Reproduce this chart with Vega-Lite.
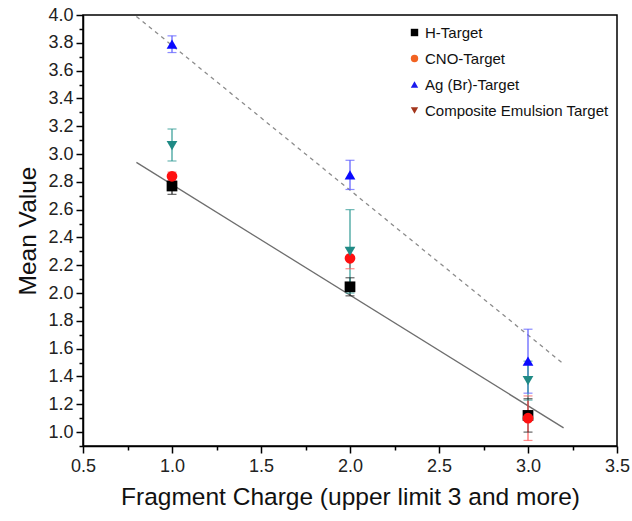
{
  "$schema": "https://vega.github.io/schema/vega-lite/v6.json",
  "width": 534,
  "height": 431,
  "autosize": "none",
  "padding": {"left": 83, "top": 15, "right": 15, "bottom": 75},
  "background": "white",
  "config": {
    "view": {"stroke": "black", "strokeWidth": 1.5},
    "font": "Liberation Sans"
  },
  "datasets": {
    "pts": [
      {"x": 1, "y": 2.77, "lo": 2.71, "hi": 2.83, "target": "H-Target"},
      {"x": 2, "y": 2.045, "lo": 1.98, "hi": 2.11, "target": "H-Target"},
      {"x": 3, "y": 1.12, "lo": 1.0, "hi": 1.24, "target": "H-Target"},
      {"x": 1, "y": 2.84, "lo": 2.81, "hi": 2.87, "target": "CNO-Target"},
      {"x": 2, "y": 2.25, "lo": 2.175, "hi": 2.325, "target": "CNO-Target"},
      {"x": 3, "y": 1.1, "lo": 0.94, "hi": 1.26, "target": "CNO-Target"},
      {"x": 1, "y": 3.79, "lo": 3.73, "hi": 3.85, "target": "Ag (Br)-Target"},
      {"x": 2, "y": 2.85, "lo": 2.745, "hi": 2.955, "target": "Ag (Br)-Target"},
      {"x": 3, "y": 1.51, "lo": 1.28, "hi": 1.74, "target": "Ag (Br)-Target"},
      {"x": 1, "y": 3.06, "lo": 2.95, "hi": 3.18, "target": "Composite Emulsion Target"},
      {"x": 2, "y": 2.3, "lo": 2.0, "hi": 2.6, "target": "Composite Emulsion Target"},
      {"x": 3, "y": 1.37, "lo": 1.23, "hi": 1.51, "target": "Composite Emulsion Target"}
    ],
    "solid": [{"x": 0.8, "y": 2.94}, {"x": 3.2, "y": 1.03}],
    "dashed": [{"x": 0.8, "y": 3.99}, {"x": 3.2, "y": 1.49}]
  },
  "encoding": {
    "x": {
      "field": "x", "type": "quantitative",
      "scale": {"domain": [0.5, 3.5], "nice": false, "zero": false},
      "axis": {
        "title": "Fragment Charge (upper limit 3 and more)",
        "values": [0.5, 0.75, 1, 1.25, 1.5, 1.75, 2, 2.25, 2.5, 2.75, 3, 3.25, 3.5],
        "labelExpr": "round(datum.value*4)%2==0 ? format(datum.value,'.1f') : ''",
        "tickSize": {"condition": {"test": "round(datum.value*4)%2==0", "value": 7}, "value": 4},
        "grid": false, "labelFlush": false, "labelOverlap": false, "labelBound": false,
        "domainColor": "black", "domainWidth": 1.5, "tickColor": "black", "tickWidth": 1.5,
        "labelFontSize": 18, "labelColor": "#222222", "labelPadding": 4,
        "titleFontSize": 24.5, "titleFontWeight": "normal", "titleColor": "#111111", "titlePadding": 10
      }
    },
    "y": {
      "field": "y", "type": "quantitative",
      "scale": {"domain": [0.9, 4.0], "nice": false, "zero": false},
      "axis": {
        "title": "Mean Value",
        "values": [0.9, 1, 1.1, 1.2, 1.3, 1.4, 1.5, 1.6, 1.7, 1.8, 1.9, 2, 2.1, 2.2, 2.3, 2.4, 2.5, 2.6, 2.7, 2.8, 2.9, 3, 3.1, 3.2, 3.3, 3.4, 3.5, 3.6, 3.7, 3.8, 3.9, 4],
        "labelExpr": "round(datum.value*10)%2==0 ? format(datum.value,'.1f') : ''",
        "tickSize": {"condition": {"test": "round(datum.value*10)%2==0", "value": 7}, "value": 4},
        "grid": false, "labelFlush": false, "labelOverlap": false, "labelBound": false,
        "domainColor": "black", "domainWidth": 1.5, "tickColor": "black", "tickWidth": 1.5,
        "labelFontSize": 18, "labelColor": "#222222", "labelPadding": 3,
        "titleFontSize": 24.5, "titleFontWeight": "normal", "titleColor": "#111111", "titlePadding": 7
      }
    }
  },
  "layer": [
    {
      "data": {"name": "solid"},
      "mark": {"type": "line", "color": "#6e6e6e", "strokeWidth": 1.3}
    },
    {
      "data": {"name": "dashed"},
      "mark": {"type": "line", "color": "#8c8c8c", "strokeWidth": 1.3, "strokeDash": [4, 4]}
    },
    {
      "data": {"name": "pts"},
      "mark": {"type": "rule", "strokeWidth": 1.2},
      "encoding": {
        "y": {"field": "lo", "type": "quantitative"},
        "y2": {"field": "hi"},
        "color": {
          "field": "target", "type": "nominal", "legend": null,
          "scale": {"domain": ["H-Target", "CNO-Target", "Ag (Br)-Target", "Composite Emulsion Target"], "range": ["#222222", "#ff5a5a", "#5a5aff", "#2f9a94"]}
        }
      }
    },
    {
      "data": {"name": "pts"},
      "mark": {"type": "tick", "orient": "horizontal", "size": 9, "thickness": 1.2},
      "encoding": {
        "y": {"field": "lo", "type": "quantitative"},
        "color": {
          "field": "target", "type": "nominal", "legend": null,
          "scale": {"domain": ["H-Target", "CNO-Target", "Ag (Br)-Target", "Composite Emulsion Target"], "range": ["#222222", "#ff5a5a", "#5a5aff", "#2f9a94"]}
        }
      }
    },
    {
      "data": {"name": "pts"},
      "mark": {"type": "tick", "orient": "horizontal", "size": 9, "thickness": 1.2},
      "encoding": {
        "y": {"field": "hi", "type": "quantitative"},
        "color": {
          "field": "target", "type": "nominal", "legend": null,
          "scale": {"domain": ["H-Target", "CNO-Target", "Ag (Br)-Target", "Composite Emulsion Target"], "range": ["#222222", "#ff5a5a", "#5a5aff", "#2f9a94"]}
        }
      }
    },
    {
      "data": {"name": "pts"},
      "mark": {"type": "point", "filled": true, "opacity": 1, "size": 115},
      "encoding": {
        "color": {
          "field": "target", "type": "nominal", "legend": null,
          "scale": {"domain": ["H-Target", "CNO-Target", "Ag (Br)-Target", "Composite Emulsion Target"], "range": ["#000000", "#ff1010", "#0a0aff", "#1f8a85"]}
        },
        "shape": {
          "field": "target", "type": "nominal", "legend": null,
          "scale": {"domain": ["H-Target", "CNO-Target", "Ag (Br)-Target", "Composite Emulsion Target"], "range": ["square", "circle", "triangle-up", "triangle-down"]}
        }
      }
    },
    {
      "data": {"name": "pts"},
      "transform": [{"filter": "false"}],
      "mark": {"type": "point", "filled": true, "opacity": 1},
      "encoding": {
        "color": {
          "field": "target", "type": "nominal",
          "scale": {"domain": ["H-Target", "CNO-Target", "Ag (Br)-Target", "Composite Emulsion Target"], "range": ["#000000", "#f26322", "#1a1aee", "#a3361c"]},
          "legend": {
            "title": null, "orient": "none", "legendX": 324, "legendY": 10,
            "symbolSize": 55, "symbolStrokeWidth": 0, "labelFontSize": 15, "labelColor": "#111111",
            "rowPadding": 10, "labelOffset": 3, "padding": 0, "labelLimit": 300
          }
        },
        "shape": {
          "field": "target", "type": "nominal",
          "scale": {"domain": ["H-Target", "CNO-Target", "Ag (Br)-Target", "Composite Emulsion Target"], "range": ["square", "circle", "triangle-up", "triangle-down"]},
          "legend": {
            "title": null, "orient": "none", "legendX": 324, "legendY": 10,
            "symbolSize": 55, "symbolStrokeWidth": 0, "labelFontSize": 15, "labelColor": "#111111",
            "rowPadding": 10, "labelOffset": 3, "padding": 0, "labelLimit": 300
          }
        }
      }
    }
  ],
  "resolve": {"scale": {"color": "independent", "shape": "independent"}}
}
